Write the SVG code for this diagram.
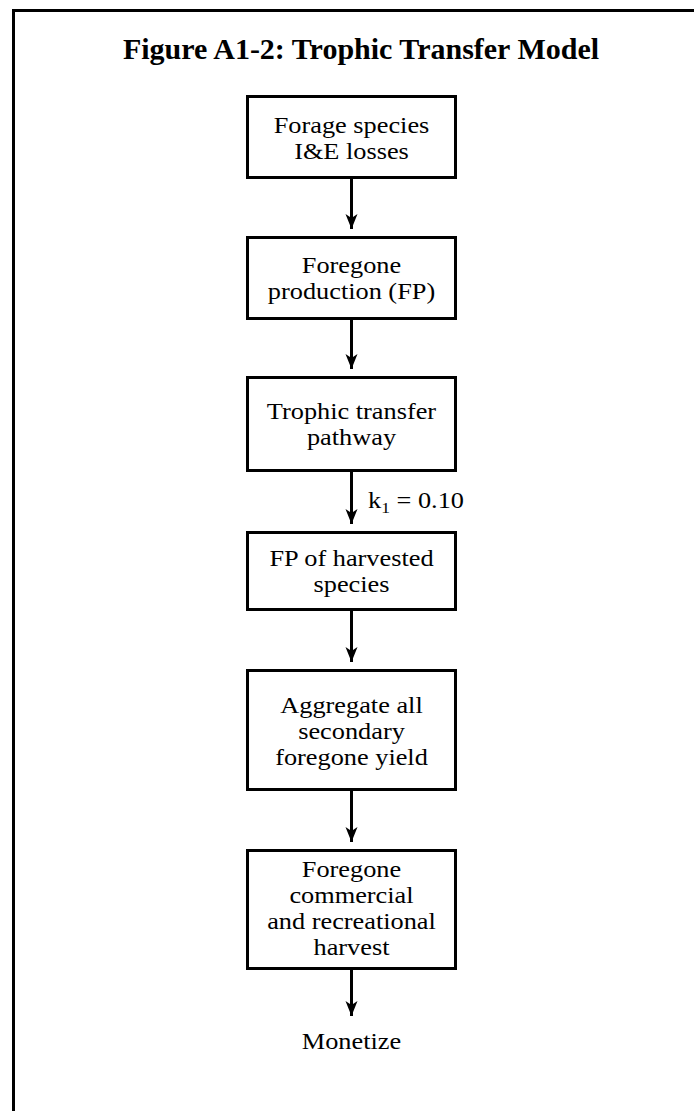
<svg xmlns="http://www.w3.org/2000/svg" width="694" height="1111" viewBox="0 0 694 1111">
<style>
.box{fill:#fff;stroke:#000;stroke-width:3}
.t{font-family:"Liberation Serif","Times New Roman",serif;font-size:22.5px;fill:#000;text-anchor:middle}
.title{font-family:"Liberation Serif","Times New Roman",serif;font-size:30px;font-weight:bold;fill:#000;text-anchor:middle}
.c{stroke:#000;stroke-width:3;fill:none}
</style>
<defs>
<marker id="ah" markerUnits="userSpaceOnUse" viewBox="-15 -7 16 14" refX="0" refY="0" markerWidth="16" markerHeight="14" orient="auto">
<path d="M0,0 L-15,-6 L-11,0 L-15,6 Z" fill="#000"/>
</marker>
</defs>
<rect width="694" height="1111" fill="#fff"/>
<g id="frame">
<path d="M13.5,1111 V10.5 H694" class="c"/>
</g>
<g id="title"><text class="title" x="361" y="59">Figure A1-2: Trophic Transfer Model</text></g>
<g id="n1"><rect class="box" x="247.5" y="96.5" width="208" height="81"/>
<text class="t" transform="translate(351.5 0) scale(1.17 1)"><tspan x="0" y="133">Forage species</tspan><tspan x="0" y="159">I&amp;E losses</tspan></text></g>
<g id="n2"><rect class="box" x="247.5" y="237.5" width="208" height="81"/>
<text class="t" transform="translate(351.5 0) scale(1.17 1)"><tspan x="0" y="273">Foregone</tspan><tspan x="0" y="299">production (FP)</tspan></text></g>
<g id="n3"><rect class="box" x="247.5" y="377.5" width="208" height="93"/>
<text class="t" transform="translate(351.5 0) scale(1.17 1)"><tspan x="0" y="419">Trophic transfer</tspan><tspan x="0" y="445">pathway</tspan></text></g>
<g id="n4"><rect class="box" x="247.5" y="532.5" width="208" height="77"/>
<text class="t" transform="translate(351.5 0) scale(1.17 1)"><tspan x="0" y="566">FP of harvested</tspan><tspan x="0" y="592">species</tspan></text></g>
<g id="n5"><rect class="box" x="247.5" y="670.5" width="208" height="119"/>
<text class="t" transform="translate(351.5 0) scale(1.17 1)"><tspan x="0" y="713">Aggregate all</tspan><tspan x="0" y="739">secondary</tspan><tspan x="0" y="765">foregone yield</tspan></text></g>
<g id="n6"><rect class="box" x="247.5" y="850.5" width="208" height="118"/>
<text class="t" transform="translate(351.5 0) scale(1.17 1)"><tspan x="0" y="877">Foregone</tspan><tspan x="0" y="903">commercial</tspan><tspan x="0" y="929">and recreational</tspan><tspan x="0" y="955">harvest</tspan></text></g>
<g id="n7"><text class="t" transform="translate(351.5 0) scale(1.17 1)" x="0" y="1049">Monetize</text></g>
<g id="connectors">
<path class="c" d="M351.5,178 V229" marker-end="url(#ah)"/>
<path class="c" d="M351.5,319 V369" marker-end="url(#ah)"/>
<path class="c" d="M351.5,471 V524" marker-end="url(#ah)"/>
<path class="c" d="M351.5,610 V662" marker-end="url(#ah)"/>
<path class="c" d="M351.5,790 V842" marker-end="url(#ah)"/>
<path class="c" d="M351.5,969 V1016" marker-end="url(#ah)"/>
<text transform="translate(368 0) scale(1.17 1)" x="0" y="508" style="font-family:'Liberation Serif','Times New Roman',serif;font-size:22.5px">k<tspan font-size="15" dy="5">1</tspan><tspan dy="-5"> = 0.10</tspan></text>
</g>
</svg>
